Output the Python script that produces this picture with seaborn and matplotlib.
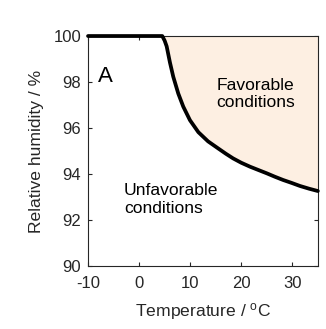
import numpy as np
import pandas as pd
import matplotlib
matplotlib.use("Agg")
import matplotlib.pyplot as plt
import seaborn as sns

# Data
temperature = [-10, 0, 4.54, 5.0, 5.40, 6.04, 6.69, 7.67, 8.65, 9.96, 11.6, 13.5, 15.5,
               17.0, 18.4, 20.0, 21.7, 23.4, 25.0, 26.6, 28.2, 29.9, 31.5, 33.3, 35.0]
rel_humidity = [100, 100, 100, 99.80, 99.55, 98.85, 98.23, 97.50, 96.93, 96.34, 95.82, 95.42, 95.11,
                94.88, 94.68, 94.49, 94.32, 94.17, 94.03, 93.88, 93.74, 93.61, 93.48, 93.36, 93.26]
x_ticks = [-10, 0, 10, 20, 30]
y_ticks = [90, 92, 94, 96, 98, 100]

sns.set_style("ticks")
plt.rcParams["font.family"] = ["Liberation Sans", "DejaVu Sans"]
plt.rcParams["mathtext.default"] = "regular"
plt.rcParams["axes.unicode_minus"] = False

df = pd.DataFrame({"T": temperature, "RH": rel_humidity})

fig = plt.figure(figsize=(3.26, 3.29), dpi=100)
ax = fig.add_axes([0.27, 0.1915, 0.705, 0.699])

ax.fill_between(df["T"], df["RH"], 100, color="#fdefe2", linewidth=0, zorder=1)
sns.lineplot(data=df, x="T", y="RH", ax=ax, color="black", linewidth=2.7, zorder=3)
for l in ax.lines:
    l.set_clip_on(False)
    l.set_solid_joinstyle("round")

ax.set_xlim(-10, 35)
ax.set_ylim(90, 100)
ax.set_xticks(x_ticks)
ax.set_yticks(y_ticks)
ax.tick_params(direction="in", length=3, width=0.8, top=True, right=True,
               labelsize=12, colors="#262626")
ax.tick_params(axis="x", pad=7)
ax.tick_params(axis="y", pad=5)
for s in ax.spines.values():
    s.set_color("#262626")
    s.set_linewidth(0.8)
    s.set_visible(True)

ax.set_xlabel("Temperature / $^{o}$C", fontsize=12.6, color="#262626")
ax.set_ylabel("Relative humidity / %", fontsize=12.6, color="#262626")
ax.xaxis.set_label_coords(0.5, -0.196)
ax.xaxis.label.set_va("center")
ax.yaxis.set_label_coords(-0.222, 0.5)
ax.yaxis.label.set_va("center")

ax.text(-8.0, 98.26, "A", fontsize=16, va="center", ha="left", color="black")
ax.text(15.17, 97.47, "Favorable\nconditions", fontsize=12.6, va="center", ha="left",
        color="black", linespacing=1.2)
ax.text(-2.96, 92.9, "Unfavorable\nconditions", fontsize=12.6, va="center", ha="left",
        color="black", linespacing=1.2)

fig.savefig("out.png", dpi=100)
